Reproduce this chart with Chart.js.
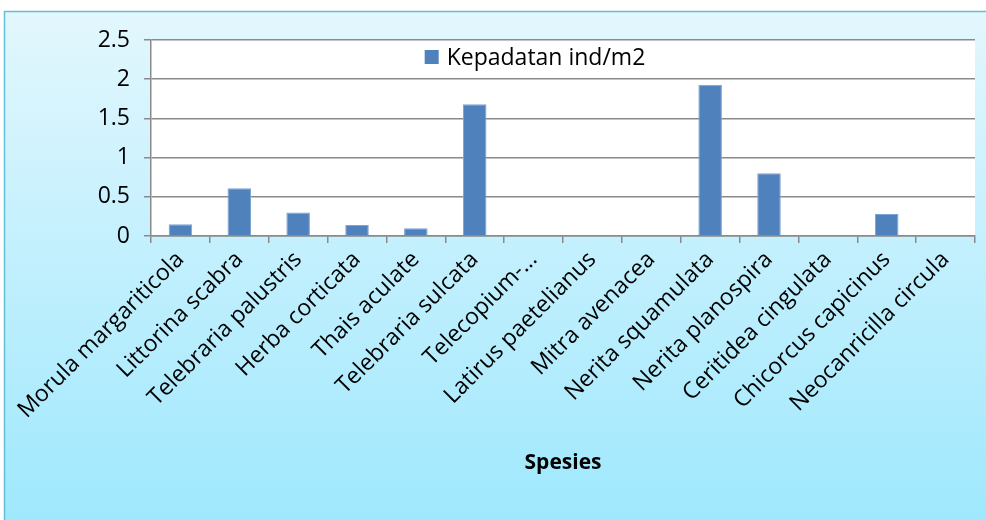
<!DOCTYPE html>
<html>
<head>
<meta charset="utf-8">
<script src="https://cdn.jsdelivr.net/npm/chart.js@4"></script>
<style>
  html, body { margin: 0; padding: 0; background: #fff; }
  #wrap { width: 986px; height: 520px; position: relative; }
</style>
</head>
<body>
<div id="wrap"><canvas id="kepadatan"></canvas></div>
<script>
const spesies = [
    'Morula margariticola', 'Littorina scabra', 'Telebraria palustris',
    'Herba corticata', 'Thais aculate', 'Telebraria sulcata',
    'Telecopium-…', 'Latirus paetelianus', 'Mitra avenacea',
    'Nerita squamulata', 'Nerita planospira', 'Ceritidea cingulata',
    'Chicorcus capicinus', 'Neocanricilla circula'
];
const kepadatan = [0.15, 0.61, 0.30, 0.14, 0.10, 1.68, 0, 0, 0, 1.93, 0.80, 0, 0.28, 0];
const yTicks = [0, 0.5, 1, 1.5, 2, 2.5];

const fontName = "'Open Sans', sans-serif";

// latar gradasi + area plot putih
const latar = {
    id: 'latar',
    beforeDraw(chart) {
        const c = chart.ctx;
        const a = chart.chartArea;
        c.save();
        const g = c.createLinearGradient(0, 11, 0, 520);
        g.addColorStop(0, '#e3f7fd');
        g.addColorStop(1, '#9fe8fd');
        c.fillStyle = g;
        c.fillRect(4, 11, 990, 520);
        c.strokeStyle = '#62bfd8';
        c.lineWidth = 1.5;
        c.beginPath();
        c.moveTo(4.5, 530);
        c.lineTo(4.5, 11.5);
        c.lineTo(990, 11.5);
        c.stroke();
        c.fillStyle = '#ffffff';
        c.fillRect(a.left, a.top, a.right - a.left, a.bottom - a.top);
        c.restore();
    }
};

// legenda di dalam area plot (seperti Excel)
const legendaDalam = {
    id: 'legendaDalam',
    afterDraw(chart) {
        const c = chart.ctx;
        const ds = chart.data.datasets[0];
        const a = chart.chartArea;
        c.save();
        c.font = '23px ' + fontName;
        const w = c.measureText(ds.label).width;
        const total = 14 + 8 + w;
        const x0 = (a.left + a.right) / 2 - 28 - total / 2;
        const yMid = a.top + 17;
        c.fillStyle = ds.backgroundColor;
        c.fillRect(x0, yMid - 7, 14, 14);
        c.fillStyle = '#000';
        c.textBaseline = 'middle';
        c.textAlign = 'left';
        c.fillText(ds.label, x0 + 22, yMid + 1);
        c.restore();
    }
};

const chart = new Chart(document.getElementById('kepadatan'), {
    type: 'bar',
    data: {
        labels: spesies,
        datasets: [{
            label: 'Kepadatan ind/m2',
            data: kepadatan,
            backgroundColor: '#4f81bd',
            borderColor: '#7ea3d2',
            borderWidth: 1,
            barPercentage: 0.4,
            categoryPercentage: 1
        }]
    },
    options: {
        responsive: true,
        maintainAspectRatio: false,
        animation: false,
        layout: {
            padding: { left: 0, top: 40, right: 11, bottom: 0 }
        },
        plugins: {
            legend: { display: false },
            tooltip: { enabled: false }
        },
        scales: {
            x: {
                afterFit(s) { s.height = 284; },
                grid: {
                    display: true,
                    offset: true,
                    drawOnChartArea: false,
                    drawTicks: true,
                    tickLength: 7,
                    color: '#8a8a8a',
                    lineWidth: 1.5
                },
                border: { display: true, color: '#8a8a8a', width: 1.5 },
                ticks: {
                    autoSkip: false,
                    minRotation: 45,
                    maxRotation: 45,
                    padding: 3,
                    color: '#000',
                    font: { family: fontName, size: 23 }
                },
                title: {
                    display: true,
                    text: 'Spesies',
                    color: '#000',
                    font: { family: fontName, size: 21, weight: 'bold' },
                    padding: { top: 0, bottom: 44 }
                }
            },
            y: {
                min: 0,
                max: 2.5,
                afterFit(s) { s.width = 151; },
                afterBuildTicks(s) { s.ticks = yTicks.map(v => ({ value: v })); },
                grid: {
                    color: '#8a8a8a',
                    lineWidth: 1.5,
                    drawTicks: true,
                    tickLength: 7
                },
                border: { display: true, color: '#8a8a8a', width: 1.5 },
                ticks: {
                    padding: 14,
                    color: '#000',
                    font: { family: fontName, size: 23 },
                    callback: v => String(v)
                }
            }
        }
    },
    plugins: [latar, legendaDalam]
});
</script>
</body>
</html>
